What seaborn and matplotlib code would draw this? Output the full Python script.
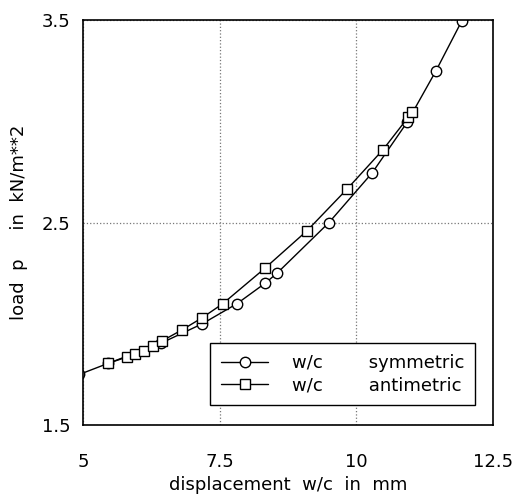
import matplotlib
matplotlib.use("Agg")
import matplotlib.pyplot as plt
import seaborn as sns
import pandas as pd

# symmetric case (circles)
sym_x = [4.93, 5.46, 6.43, 7.18, 7.82, 8.33, 8.55, 9.50, 10.29, 10.93, 11.46, 11.93]
sym_y = [1.75, 1.805, 1.905, 2.00, 2.10, 2.20, 2.25, 2.50, 2.745, 2.995, 3.25, 3.495]
# antimetric case (squares)
anti_x = [5.46, 5.80, 5.95, 6.12, 6.28, 6.44, 6.81, 7.18, 7.56, 8.33, 9.10, 9.83, 10.49, 10.95, 11.02]
anti_y = [1.805, 1.836, 1.85, 1.865, 1.89, 1.915, 1.97, 2.03, 2.10, 2.275, 2.46, 2.665, 2.86, 3.02, 3.045]

x_ticks = [5, 7.5, 10, 12.5]
x_tick_labels = ["5", "7.5", "10", "12.5"]
y_ticks = [1.5, 2.5, 3.5]
y_tick_labels = ["1.5", "2.5", "3.5"]

sym_label = "w/c        symmetric"
anti_label = "w/c        antimetric"

sns.set_style("white")
plt.rcParams["font.family"] = ["DejaVu Sans"]
plt.rcParams["text.color"] = "black"
plt.rcParams["axes.labelcolor"] = "black"
plt.rcParams["xtick.color"] = "black"
plt.rcParams["ytick.color"] = "black"

fig = plt.figure(figsize=(5.14, 4.99), dpi=100)
ax = fig.add_axes([0.1615, 0.148, 0.7975, 0.812])

df_sym = pd.DataFrame({"x": sym_x, "y": sym_y})
df_anti = pd.DataFrame({"x": anti_x, "y": anti_y})

sns.lineplot(data=df_sym, x="x", y="y", ax=ax, color="black", lw=1.0,
             marker="o", ms=7.5, mfc="white", mec="black", mew=1.0,
             estimator=None, label=sym_label)
sns.lineplot(data=df_anti, x="x", y="y", ax=ax, color="black", lw=1.0,
             marker="s", ms=6.5, mfc="white", mec="black", mew=1.0,
             estimator=None, label=anti_label)

ax.set_xlim(5, 12.5)
ax.set_ylim(1.5, 3.5)
ax.set_xticks(x_ticks)
ax.set_xticklabels(x_tick_labels)
ax.set_yticks(y_ticks)
ax.set_yticklabels(y_tick_labels)
ax.tick_params(axis="x", length=0, pad=20, labelsize=13)
ax.tick_params(axis="y", length=0, pad=9, labelsize=13)
ax.grid(True, color="#777777", linestyle=":", linewidth=0.9)

for s in ax.spines.values():
    s.set_color("black")
    s.set_linewidth(1.2)

ax.set_xlabel("displacement  w/c  in  mm", fontsize=13, labelpad=4)
ax.set_ylabel("load  p     in  kN/m**2", fontsize=13, labelpad=10)

leg = ax.legend(loc="lower right", bbox_to_anchor=(0.956, 0.049), fontsize=13,
                frameon=True, fancybox=False, edgecolor="black", framealpha=1,
                borderaxespad=0, handlelength=2.6, borderpad=0.6,
                labelspacing=0.25, handletextpad=1.3)
leg.get_frame().set_linewidth(1.0)

fig.savefig("out.png", dpi=100)
